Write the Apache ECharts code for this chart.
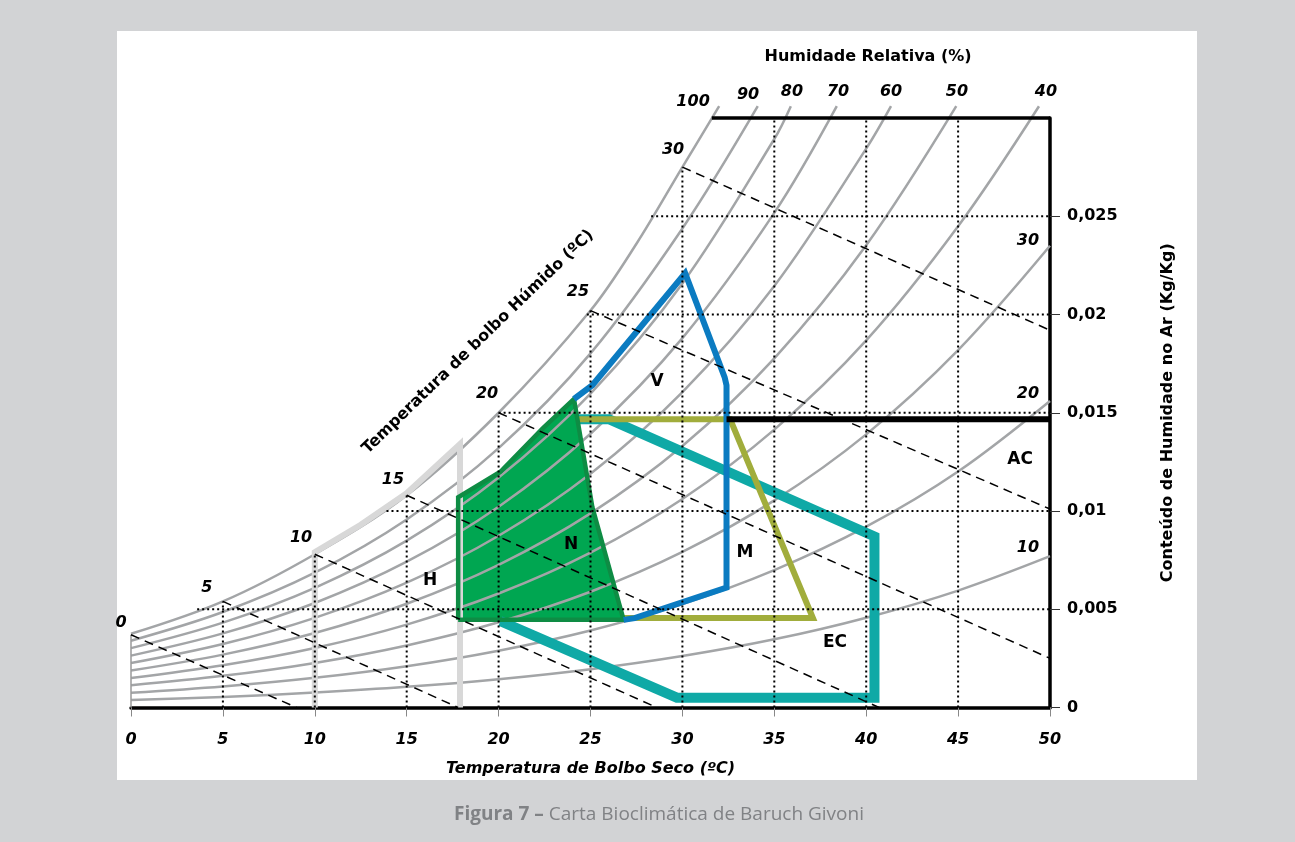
<!DOCTYPE html>
<html><head><meta charset="utf-8">
<script src="https://cdn.jsdelivr.net/npm/echarts@6/dist/echarts.min.js"></script>
<style>html,body{margin:0;padding:0;background:#d2d3d5;}#c{width:1295px;height:842px;}</style>
</head><body><div id="c"></div>
<script>
// ---------- data ----------
const xTicks = [0,5,10,15,20,25,30,35,40,45,50];
const yTicks = [0,0.005,0.01,0.015,0.02,0.025];

// relative humidity curves [dry bulb T, moisture content]
const rh100 = [[0,0.00375],[5,0.0054],[10,0.0078],[15,0.0108],[20,0.0150],[25,0.0202],[27.5,0.0236],[30,0.0275],[32.0,0.0306]];
const rh90  = [[0,0.0034],[5,0.00486],[10,0.00686],[15,0.00957],[20,0.0132],[25,0.01802],[30,0.02438],[34.1,0.0306]];
const rh80  = [[0,0.00302],[5,0.00432],[10,0.00609],[15,0.00849],[20,0.0117],[25,0.01597],[30,0.02158],[35,0.02893],[35.9,0.0306]];
const rh70  = [[0,0.00264],[5,0.00377],[10,0.00532],[15,0.00742],[20,0.01022],[25,0.01393],[30,0.0188],[35,0.02517],[38.4,0.0306]];
const rh60  = [[0,0.00226],[5,0.00323],[10,0.00456],[15,0.00635],[20,0.00874],[25,0.0119],[30,0.01605],[35,0.02145],[40,0.02844],[41.35,0.0306]];
const rh50  = [[0,0.00188],[5,0.00269],[10,0.00379],[15,0.00528],[20,0.00726],[25,0.00988],[30,0.01331],[35,0.01777],[40,0.02352],[44.9,0.0306]];
const rh40  = [[0,0.0015],[5,0.00215],[10,0.00303],[15,0.00422],[20,0.0058],[25,0.00788],[30,0.01061],[35,0.01414],[40,0.01868],[45,0.02449],[49.4,0.0306]];
const rh30  = [[0,0.00113],[5,0.00161],[10,0.00227],[15,0.00316],[20,0.00434],[25,0.00589],[30,0.00792],[35,0.01054],[40,0.0139],[45,0.01819],[50,0.0235]];
const rh20  = [[0,0.00075],[5,0.00107],[10,0.00151],[15,0.0021],[20,0.00289],[25,0.00392],[30,0.00526],[35,0.00699],[40,0.0092],[45,0.01201],[50,0.0156]];
const rh10  = [[0,0.00038],[5,0.00054],[10,0.00076],[15,0.00105],[20,0.00144],[25,0.00195],[30,0.00262],[35,0.00347],[40,0.00457],[45,0.00595],[50,0.0077]];
const rhCurves = [rh100,rh90,rh80,rh70,rh60,rh50,rh40,rh30,rh20,rh10];

// wet bulb lines (dashed): start on saturation, end on axis / border
const wb0  = [[0,0.0037],[9.0,0]];
const wb5  = [[5,0.0054],[17.8,0]];
const wb10 = [[10,0.0078],[28.6,0]];
const wb15 = [[15,0.0108],[40.7,0]];
const wb20 = [[20,0.0150],[50,0.0025]];
const wb25 = [[25,0.0202],[50,0.0101]];
const wb30 = [[30,0.0275],[50,0.0192]];
const wetBulbLines = [wb0,wb5,wb10,wb15,wb20,wb25,wb30];

// dotted grid: verticals [T, Wfrom, Wto], horizontals [W, Tfrom, Tto]
const dottedV = [[5,0,0.0054],[10,0,0.0078],[15,0,0.0108],[20,0,0.015],[25,0,0.0202],[30,0,0.0275],[35,0,0.03],[40,0,0.03],[45,0,0.03]];
const dottedH = [[0.005,3.6,50],[0.01,13.9,50],[0.015,20.0,50],[0.02,24.8,50],[0.025,28.3,50]];

// zones
const zoneN  = [[17.8,0.00446],[17.8,0.0107],[20.1,0.0120],[22.4,0.0142],[24.1,0.0157],[25.1,0.0102],[26.8,0.00446]];
const zoneV  = [[24.1,0.0157],[25.1,0.0164],[30.15,0.0221],[32.3,0.0168],[32.4,0.0164],[32.4,0.0061],[27.4,0.00455],[26.8,0.00446]];
const zoneM  = [[24.3,0.01467],[32.6,0.01467],[37.1,0.00455],[26.8,0.00455]];
const zoneEC = [[24.3,0.01467],[26.0,0.01467],[40.45,0.0087],[40.45,0.0005],[29.7,0.0005],[20.1,0.0044]];
const zoneH  = [[10,0],[10,0.0079],[12.5,0.0093],[15,0.0109],[17.9,0.0134],[17.9,0]];
const lineAC = [[32.4,0.01467],[50,0.01467]];
const topBorder = [[31.6,0.03],[50,0.03]];
const leftEdge = [[0,0],[0,0.0037]];

// text labels [text, T, W]
const zoneLabels = [['V',28.62,0.0166],['N',23.94,0.0083],['M',33.41,0.0079],['H',16.27,0.00645],['EC',38.3,0.0033],['AC',48.37,0.01263]];
const rhTopLabels = [['100',30.58,0.03084],['90',33.57,0.0312],['80',35.96,0.03135],['70',38.47,0.03135],['60',41.35,0.03135],['50',44.94,0.03135],['40',49.78,0.03135]];
const rhRightLabels = [['30',48.8,0.02375],['20',48.8,0.01594],['10',48.8,0.00814]];
const wbLabels = [['0',-0.54,0.00431],['5',4.13,0.0061],['10',9.25,0.00865],['15',14.25,0.0116],['20',19.37,0.01594],['25',24.32,0.02115],['30',29.49,0.0284]];
const titleRH = ['Humidade Relativa (%)',40.1,0.0331];
const titleWB = ['Temperatura de bolbo Húmido (ºC)',18.88,0.0186];

// ---------- chart ----------
const FONT = 'DejaVu Sans';
const W8 = 'bold';
const chart = echarts.init(document.getElementById('c'));

function ln(data, color, width, extra) {
  return Object.assign({
    type:'line', data, symbol:'none', showSymbol:false, clip:false, silent:true, animation:false,
    lineStyle:{color, width, cap:'butt', join:'miter'}
  }, extra || {});
}

const series = [];
// green fill (N)
series.push({
  type:'custom', coordinateSystem:'cartesian2d', data:[zoneN[0]], z:1, silent:true, animation:false, clip:false,
  encode:{x:0,y:1},
  renderItem(params, api){
    return {type:'polygon', shape:{points: zoneN.map(p => api.coord(p))}, style:{fill:'#00a651'}};
  }
});
// RH curves
rhCurves.forEach(c => series.push(ln(c, '#a3a5a7', 2.5, {smooth:0.35, z:2})));
// light grey H
series.push(ln(zoneH, '#d8d8d8', 6, {z:3}));
// left thin edge
series.push(ln(leftEdge, '#9a9a9a', 1.5, {z:3}));
// teal EC
series.push(ln(zoneEC, '#0fa9a6', 10, {z:3}));
// olive
series.push(ln(zoneM, '#a1ad3c', 6, {z:3}));
// green outline
series.push(ln(zoneN.concat([zoneN[0]]), '#0e8c44', 4.5, {z:4}));
// blue V
series.push(ln(zoneV, '#0b7bc1', 6, {z:4}));
// dotted grid
dottedV.forEach(d => series.push(ln([[d[0],d[1]],[d[0],d[2]]], '#000', 2, {z:5, lineStyle:{color:'#000', width:2, type:[2,3], cap:'butt'}})));
dottedH.forEach(d => series.push(ln([[d[1],d[0]],[d[2],d[0]]], '#000', 2, {z:5, lineStyle:{color:'#000', width:2, type:[2,3], cap:'butt'}})));
// wet bulb dashed
wetBulbLines.forEach(d => series.push(ln(d, '#000', 1.5, {z:5, lineStyle:{color:'#000', width:1.5, type:[9,6]}})));
// AC line & top border
series.push(ln(lineAC, '#000', 6, {z:6}));
series.push(ln(topBorder, '#000', 3.5, {z:6}));

// text labels through a custom series (positions via the axes)
const textItems = [];
function addTexts(arr, opts) { arr.forEach(a => textItems.push({text:a[0], value:[a[1],a[2]], opts})); }
addTexts(zoneLabels, {size:17, italic:false});
addTexts(rhTopLabels, {size:16, italic:true});
addTexts(rhRightLabels, {size:16, italic:true});
addTexts(wbLabels, {size:16, italic:true});
addTexts([titleRH], {size:16, italic:false});
addTexts([titleWB], {size:16, italic:false, rot:44});
series.push({
  type:'custom', coordinateSystem:'cartesian2d', data:textItems.map(t => t.value), z:8,
  silent:true, animation:false, clip:false, encode:{x:0,y:1},
  renderItem(params, api){
    const t = textItems[params.dataIndex];
    const p = api.coord([api.value(0), api.value(1)]);
    return {
      type:'text', x:p[0], y:p[1], rotation:(t.opts.rot || 0) * Math.PI / 180,
      style:{text:t.text, fill:'#000', fontFamily:FONT, fontSize:t.opts.size, fontWeight:W8,
        fontStyle:t.opts.italic ? 'italic' : 'normal', align:'center', verticalAlign:'middle'}
    };
  }
});

chart.setOption({
  backgroundColor:'#d2d3d5',
  animation:false,
  grid:{left:131, right:245, top:118, bottom:134.5, containLabel:false, outerBoundsMode:'none'},
  graphic:[
    {type:'rect', z:-10, shape:{x:117,y:31,width:1080,height:749}, style:{fill:'#ffffff'}, silent:true},
    {type:'text', x:659, y:815, silent:true, style:{
      text:'{b|Figura 7 –} Carta Bioclimática de Baruch Givoni',
      fill:'#808285', fontFamily:'Open Sans', fontSize:19, align:'center', verticalAlign:'middle',
      rich:{b:{fontWeight:'bold', fill:'#808285', fontFamily:'Open Sans', fontSize:19}}
    }}
  ],
  xAxis:{
    type:'value', min:0, max:50, interval:5, position:'bottom',
    axisLine:{show:true, onZero:false, lineStyle:{color:'#000', width:3.5}},
    axisTick:{show:true, length:9, lineStyle:{color:'#888', width:1}, customValues:xTicks},
    axisLabel:{margin:24, fontFamily:FONT, fontSize:16, fontWeight:W8, fontStyle:'italic', color:'#000', customValues:xTicks},
    splitLine:{show:false},
    name:'Temperatura de Bolbo Seco (ºC)', nameLocation:'middle', nameGap:53,
    nameTextStyle:{fontFamily:FONT, fontSize:16, fontWeight:W8, fontStyle:'italic', color:'#000'}
  },
  yAxis:{
    type:'value', min:0, max:0.03, interval:0.005, position:'right',
    axisLine:{show:true, onZero:false, lineStyle:{color:'#000', width:3.5}},
    axisTick:{show:true, length:10, lineStyle:{color:'#333', width:1}, customValues:yTicks},
    axisLabel:{margin:17, fontFamily:FONT, fontSize:16, fontWeight:W8, color:'#000', customValues:yTicks,
      formatter:v => v === 0 ? '0' : String(+(+v).toFixed(3)).replace('.', ',')},
    splitLine:{show:false},
    name:'Conteúdo de Humidade no Ar (Kg/Kg)', nameLocation:'middle', nameRotate:90, nameGap:110,
    nameTextStyle:{fontFamily:FONT, fontSize:16, fontWeight:W8, color:'#000'}
  },
  series
});
</script></body></html>
